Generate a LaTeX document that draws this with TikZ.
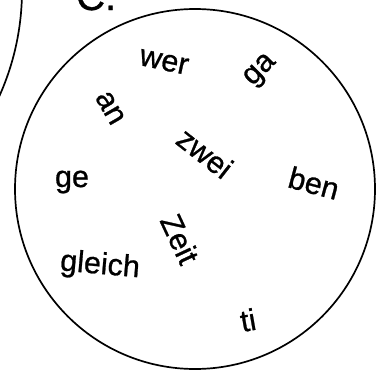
\documentclass[tikz,border=0pt]{standalone}
\usepackage{fontspec}
\setmainfont{Liberation Sans}
\newfontfamily\wordfont[FakeBold=0.8]{Liberation Sans}
\begin{document}
\begin{tikzpicture}[x=1pt,y=-1pt,
  word/.style={font=\wordfont\fontsize{30.5}{30.5}\selectfont, inner sep=0pt, text=black},
  ring/.style={draw=black, line width=1.7pt}]
\useasboundingbox (0,0) rectangle (377,372);
\clip (0,0) rectangle (377,372);
\draw[ring] (-237,-10) circle[radius=259pt];
\draw[ring] (195,189) circle[radius=180pt];
\node[anchor=base west, font=\wordfont\fontsize{40}{40}\selectfont, inner sep=0pt] (lbl) at (76,10) {C.};
\node[word, rotate=-12] (wer) at (164,62) {wer};
\node[word, rotate=45] (ga) at (261,71) {ga};
\node[word, rotate=-60] (an) at (110,108) {an};
\node[word, rotate=-38] (zwei) at (205,153) {zwei};
\node[word, rotate=-15] (ben) at (314,183) {ben};
\node[word] (ge) at (72,182) {ge};
\node[word, rotate=-65] (zeit) at (180,239) {Zeit};
\node[word, rotate=-5] (gleich) at (100,266) {gleich};
\node[word, rotate=10] (ti) at (248,320) {ti};
\end{tikzpicture}
\end{document}
